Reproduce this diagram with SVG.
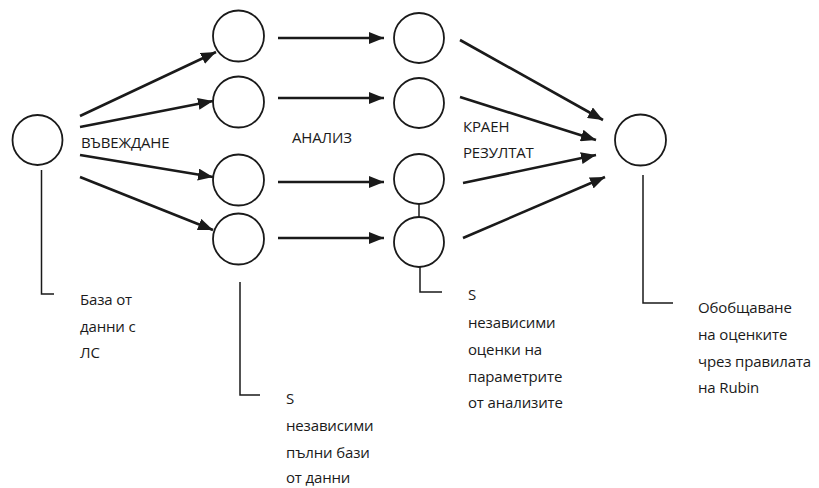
<svg xmlns="http://www.w3.org/2000/svg" width="819" height="488" viewBox="0 0 819 488">
<defs>
<marker id="ah" markerUnits="userSpaceOnUse" markerWidth="16" markerHeight="12" refX="15" refY="6" orient="auto">
<path d="M0,0 L15,6 L0,12 Z" fill="#1a1a1a"/>
</marker>
</defs>
<style>
.n{fill:#fff;stroke:#1a1a1a;stroke-width:1.8}
.a{stroke:#1a1a1a;stroke-width:2.6;fill:none;marker-end:url(#ah)}
.l{stroke:#1a1a1a;stroke-width:1.5;fill:none}
text{font-family:"Open Sans","Noto Sans",sans-serif;font-size:15px;letter-spacing:-0.15px;fill:#1a1a1a}
</style>
<rect width="819" height="488" fill="#fff"/>
<g id="connectors">
<path class="a" d="M80,116 L216,52"/>
<path class="a" d="M80,127 L213,101"/>
<path class="a" d="M80,155 L213,177"/>
<path class="a" d="M80,177 L213,230"/>
<path class="a" d="M278,38 L384,38"/>
<path class="a" d="M278,98 L384,98"/>
<path class="a" d="M278,182 L384,182"/>
<path class="a" d="M278,238 L384,238"/>
<path class="a" d="M460,40 L603,120"/>
<path class="a" d="M460,97 L596,140"/>
<path class="a" d="M463,183 L596,155"/>
<path class="a" d="M463,238 L605,177"/>
<path class="l" d="M419,204 L419,217"/>
<path class="l" d="M41.5,170 L41.5,294 L54,294"/>
<path class="l" d="M240,282 L240,395 L260,395"/>
<path class="l" d="M420,267 L420,292 L442,292"/>
<path class="l" d="M643,175 L643,303 L673,303"/>
</g>
<g id="n0"><circle class="n" cx="37.5" cy="140" r="25"/></g>
<g id="n1"><circle class="n" cx="238.5" cy="36" r="25.5"/></g>
<g id="n2"><circle class="n" cx="238.5" cy="102" r="25.5"/></g>
<g id="n3"><circle class="n" cx="238.5" cy="180" r="25.5"/></g>
<g id="n4"><circle class="n" cx="238.5" cy="239" r="25.5"/></g>
<g id="n5"><circle class="n" cx="419" cy="38" r="25"/></g>
<g id="n6"><circle class="n" cx="419" cy="103" r="25"/></g>
<g id="n7"><circle class="n" cx="419" cy="179" r="25"/></g>
<g id="n8"><circle class="n" cx="419" cy="242" r="25"/></g>
<g id="n9"><circle class="n" cx="640.5" cy="140" r="25.5"/></g>
<g id="labels">
<text x="81" y="148">ВЪВЕЖДАНЕ</text>
<text x="292" y="143">АНАЛИЗ</text>
<text x="463" y="132">КРАЕН</text>
<text x="463" y="158">РЕЗУЛТАТ</text>
<text x="80" y="305">База от</text>
<text x="80" y="332">данни с</text>
<text x="80" y="358">ЛС</text>
<text x="286" y="404">S</text>
<text x="286" y="431">независими</text>
<text x="286" y="458">пълни бази</text>
<text x="286" y="483">от данни</text>
<text x="468" y="300">S</text>
<text x="468" y="328">независими</text>
<text x="468" y="355">оценки на</text>
<text x="468" y="382">параметрите</text>
<text x="468" y="408">от анализите</text>
<text x="698" y="313">Обобщаване</text>
<text x="698" y="340">на оценките</text>
<text x="698" y="367">чрез правилата</text>
<text x="698" y="393">на Rubin</text>
</g>
</svg>
